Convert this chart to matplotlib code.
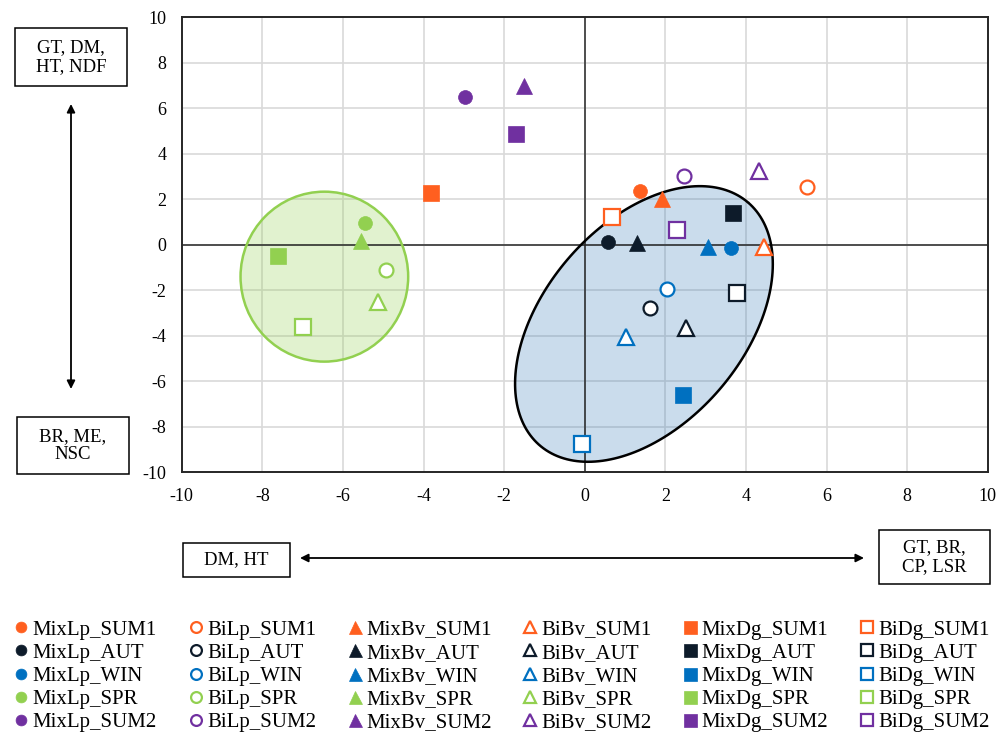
import matplotlib.pyplot as plt
import numpy as np
from matplotlib.lines import Line2D
from matplotlib.patches import Ellipse, Polygon, Rectangle, FancyArrowPatch

plt.rcParams['font.family'] = ['Liberation Serif', 'DejaVu Serif']
plt.rcParams['axes.unicode_minus'] = False

seasons = ['SUM1', 'AUT', 'WIN', 'SPR', 'SUM2']
season_colors = ['#FF5F1F', '#0D1B2A', '#0070C0', '#92D050', '#7030A0']

groups = ['MixLp', 'BiLp', 'MixBv', 'BiBv', 'MixDg', 'BiDg']
group_markers = ['o', 'o', '^', '^', 's', 's']
group_filled = [True, False, True, False, True, False]
group_sizes = [10, 10, 12, 11, 12, 11]

# PC scores per group, seasons in order SUM1, AUT, WIN, SPR, SUM2
MixLp_x = [1.37, 0.59, 3.62, -5.45, -2.97]
MixLp_y = [2.36, 0.14, -0.16, 0.97, 6.51]
BiLp_x = [5.51, 1.62, 2.05, -4.94, 2.46]
BiLp_y = [2.55, -2.78, -1.96, -1.11, 3.04]
MixBv_x = [1.92, 1.30, 3.05, -5.56, -1.51]
MixBv_y = [2.03, 0.10, -0.11, 0.18, 6.98]
BiBv_x = [4.46, 2.51, 1.02, -5.13, 4.33]
BiBv_y = [-0.08, -3.67, -4.04, -2.50, 3.26]
MixDg_x = [-3.82, 3.67, 2.43, -7.60, -1.70]
MixDg_y = [2.29, 1.38, -6.60, -0.49, 4.86]
BiDg_x = [0.67, 3.77, -0.07, -7.00, 2.28]
BiDg_y = [1.24, -2.10, -8.76, -3.60, 0.65]

xs = [MixLp_x, BiLp_x, MixBv_x, BiBv_x, MixDg_x, BiDg_x]
ys = [MixLp_y, BiLp_y, MixBv_y, BiBv_y, MixDg_y, BiDg_y]

W, H = 999, 736
fig = plt.figure(figsize=(W / 100, H / 100), dpi=100)
ax = fig.add_axes([181.7 / W, 1 - 472.3 / H, 806 / W, 455 / H])
ax.set_xlim(-10, 10)
ax.set_ylim(-10, 10)
ax.set_xticks(np.arange(-10, 11, 2))
ax.set_yticks(np.arange(-10, 11, 2))
ax.tick_params(length=0, labelsize=13, pad=11)
ax.grid(color='#D9D9D9', lw=1.2)
ax.set_axisbelow(True)
for s in ax.spines.values():
    s.set_color('#262626')
    s.set_linewidth(1.4)
ax.axhline(0, color='#262626', lw=1.1, zorder=1.5)
ax.axvline(0, color='#262626', lw=1.1, zorder=1.5)

# green group circle (round on screen)
ax.add_patch(Ellipse((-6.46, -1.40), 4.16, 7.47, facecolor='#92D050', alpha=0.27,
                     edgecolor='none', zorder=1))
ax.add_patch(Ellipse((-6.46, -1.40), 4.16, 7.47, facecolor='none',
                     edgecolor='#92D050', lw=1.8, zorder=1.6))

# blue tilted ellipse, defined in screen units then mapped to data
sx, sy = 40.3, 22.75
a, b, th = 160, 100, np.radians(49.4)
t = np.linspace(0, 2 * np.pi, 200)
ex = 1.47 + (a * np.cos(t) * np.cos(th) - b * np.sin(t) * np.sin(th)) / sx
ey = -3.48 + (a * np.cos(t) * np.sin(th) + b * np.sin(t) * np.cos(th)) / sy
pts = np.column_stack([ex, ey])
ax.add_patch(Polygon(pts, closed=True, facecolor='#2E75B6', alpha=0.25,
                     edgecolor='none', zorder=1))
ax.add_patch(Polygon(pts, closed=True, facecolor='none', edgecolor='black',
                     lw=1.8, zorder=1.6))

handles = []
for g, m, filled, ms, gx, gy in zip(groups, group_markers, group_filled,
                                    group_sizes, xs, ys):
    for i, season in enumerate(seasons):
        c = season_colors[i]
        if filled:
            kw = dict(markerfacecolor=c, markeredgecolor=c, markeredgewidth=0.5)
        else:
            kw = dict(markerfacecolor='white', markeredgecolor=c, markeredgewidth=1.6)
        ax.plot(gx[i], gy[i], linestyle='none', marker=m, markersize=ms, zorder=3, **kw)
        handles.append(Line2D([], [], linestyle='none', marker=m, markersize=ms * 0.78,
                              label=f'{g}_{season}', **kw))

fig.legend(handles=handles, ncol=6, loc='upper left',
           bbox_to_anchor=(15 / W, 1 - 620 / H), frameon=False, fontsize=15,
           handlelength=0.6, handletextpad=0.25, columnspacing=1.55,
           labelspacing=0.17, borderpad=0, borderaxespad=0)


def box(x0, y0, x1, y1, text):
    fig.add_artist(Rectangle((x0 / W, 1 - y1 / H), (x1 - x0) / W, (y1 - y0) / H,
                             transform=fig.transFigure, facecolor='white',
                             edgecolor='black', lw=1.1))
    fig.text((x0 + x1) / 2 / W, 1 - (y0 + y1) / 2 / H, text, ha='center', va='center',
             fontsize=13.5, linespacing=1.1)


box(15, 28, 127, 86, 'GT, DM,\nHT, NDF')
box(17, 417, 129, 474, 'BR, ME,\nNSC')
box(183, 543, 290, 577, 'DM, HT')
box(879, 530, 990, 584, 'GT, BR,\nCP, LSR')

arrow = dict(arrowstyle='<|-|>', color='black', lw=1.3, mutation_scale=12,
             shrinkA=0, shrinkB=0)
fig.add_artist(FancyArrowPatch((71 / W, 1 - 104 / H), (71 / W, 1 - 389 / H),
                               transform=fig.transFigure, **arrow))
fig.add_artist(FancyArrowPatch((300 / W, 1 - 558 / H), (864 / W, 1 - 558 / H),
                               transform=fig.transFigure, **arrow))

fig.savefig('out.png', dpi=100)
